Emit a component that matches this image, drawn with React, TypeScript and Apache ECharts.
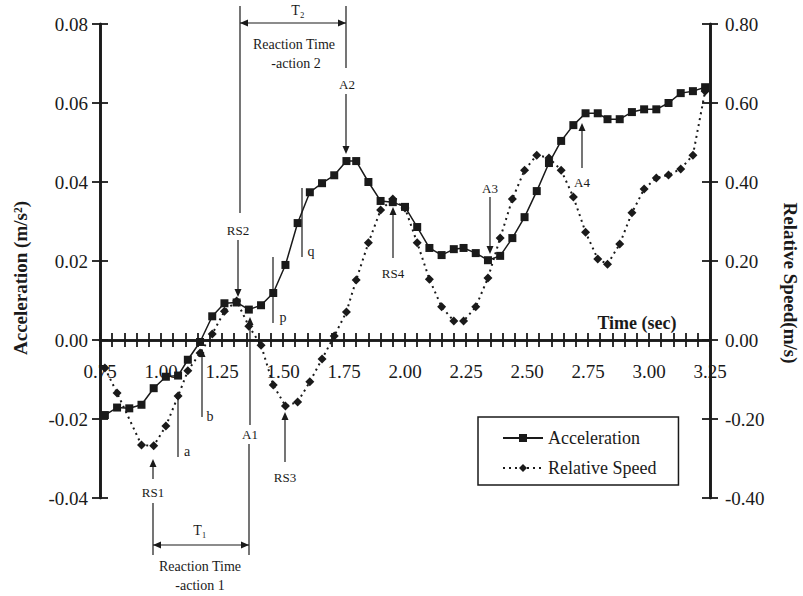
import React, { useEffect, useRef } from "react";
import * as echarts from "echarts";

// ---- data ----
const times = [
  0.77, 0.82, 0.87, 0.92, 0.97, 1.02, 1.07, 1.11, 1.16, 1.21,
  1.26, 1.31, 1.36, 1.41, 1.46, 1.51, 1.56, 1.61, 1.66, 1.71,
  1.76, 1.80, 1.85, 1.90, 1.95, 2.00, 2.05, 2.10, 2.15, 2.20,
  2.24, 2.29, 2.34, 2.39, 2.44, 2.49, 2.54, 2.59, 2.64, 2.69,
  2.74, 2.79, 2.83, 2.88, 2.93, 2.98, 3.03, 3.08, 3.13, 3.18,
  3.23,
];

const acceleration = [
  -0.019, -0.0171, -0.0173, -0.0164, -0.0122, -0.0093, -0.009, -0.005, -0.0005, 0.006,
  0.0093, 0.0095, 0.0077, 0.0088, 0.0119, 0.019, 0.0296, 0.0374, 0.0397, 0.0417,
  0.0453, 0.0453, 0.04, 0.0352, 0.0349, 0.0337, 0.0286, 0.0233, 0.0215, 0.023,
  0.0233, 0.022, 0.0202, 0.0213, 0.0258, 0.0311, 0.0377, 0.0448, 0.0504, 0.0544,
  0.0574, 0.0574, 0.0559, 0.0559, 0.0577, 0.0584, 0.0584, 0.06, 0.0625, 0.063,
  0.064,
];

const relativeSpeed = [
  -0.071, -0.134, null, -0.266, -0.268, -0.218, -0.142, -0.078, -0.033, 0.015,
  0.073, 0.099, 0.035, -0.013, -0.114, -0.167, -0.157, -0.106, -0.048, 0.01,
  0.071, 0.152, 0.246, 0.329, 0.357, 0.334, 0.246, 0.154, 0.084, 0.048,
  0.048, 0.084, 0.157, 0.258, 0.357, 0.43, 0.468, 0.461, 0.43, 0.362,
  0.273, 0.205, 0.192, 0.243, 0.322, 0.382, 0.41, 0.418, 0.433, 0.468,
  0.63,
];

const seriesNames = ["Acceleration", "Relative Speed"];
const accelAxis = { min: -0.04, max: 0.08, interval: 0.02 };
const speedAxis = { min: -0.4, max: 0.8, interval: 0.2 };
const timeAxis = { min: 0.75, max: 3.25, interval: 0.25 };

const INK = "#1a1a1a";
const FONT = '"Liberation Serif", "Times New Roman", serif';

function vline(x: number, y1: number, y2: number) {
  return { type: "line", silent: true, shape: { x1: x, y1, x2: x, y2 }, style: { stroke: INK, lineWidth: 1.2 } };
}
function hline(x1: number, x2: number, y: number) {
  return { type: "line", silent: true, shape: { x1, y1: y, x2, y2: y }, style: { stroke: INK, lineWidth: 1.2 } };
}
function head(x: number, y: number, dir: string) {
  const L = 8, W = 3.5;
  let pts: number[][] = [];
  if (dir === "up") pts = [[x, y], [x - W, y + L], [x + W, y + L]];
  if (dir === "down") pts = [[x, y], [x - W, y - L], [x + W, y - L]];
  if (dir === "left") pts = [[x, y], [x + L, y - W], [x + L, y + W]];
  if (dir === "right") pts = [[x, y], [x - L, y - W], [x - L, y + W]];
  return { type: "polygon", silent: true, shape: { points: pts }, style: { fill: INK } };
}
function label(x: number, y: number, text: string, size = 14, weight = "normal", rotation = 0) {
  return {
    type: "text",
    silent: true,
    x,
    y,
    rotation,
    style: {
      text,
      font: `${weight} ${size}px ${FONT}`,
      fill: INK,
      textAlign: "center",
      textVerticalAlign: "middle",
      align: "center",
      verticalAlign: "middle",
    },
  };
}

const annotations = [
  // T2 / reaction time action 2
  hline(240, 346, 23), head(240, 23, "left"), head(346, 23, "right"),
  label(298, 10, "T₂", 14),
  vline(346, 6, 68), vline(240, 6, 213),
  label(294, 44, "Reaction Time", 14), label(296, 63, "-action 2", 14),
  // A2
  label(347, 84, "A2", 13), vline(346, 94, 150), head(346, 154, "down"),
  // RS2
  label(238, 230, "RS2", 13), vline(238, 240, 294), head(238, 297, "down"),
  // p, q
  vline(273, 257, 323), label(283, 317, "p", 14),
  vline(302, 188, 257), label(311, 251, "q", 14),
  // a, b
  vline(178, 393, 457), label(187, 451, "a", 14),
  vline(202, 356, 417), head(202, 349, "up"), label(210, 416, "b", 14),
  // A1
  head(250, 317, "up"), vline(250, 322, 425), label(250, 434, "A1", 13), vline(249, 444, 555),
  // RS1 and T1
  head(153, 459, "up"), vline(153, 463, 479), label(153, 492, "RS1", 13), vline(153, 503, 555),
  hline(153, 249, 545), head(153, 545, "left"), head(249, 545, "right"),
  label(200, 530, "T₁", 14),
  label(200, 566, "Reaction Time", 14), label(200, 585, "-action 1", 14),
  // RS3, RS4, A3, A4
  head(285, 412, "up"), vline(285, 416, 462), label(285, 477, "RS3", 13),
  head(393, 207, "up"), vline(393, 211, 258), label(393, 273, "RS4", 13),
  label(490, 188, "A3", 13), vline(490, 197, 250), head(490, 254, "down"),
  head(582, 123, "up"), vline(582, 127, 168), label(582, 182, "A4", 13),
  // axis titles
  label(637, 323, "Time (sec)", 18, "bold"),
  label(20, 278, "Acceleration (m/s²)", 19, "bold", Math.PI / 2),
  label(790, 283, "Relative Speed(m/s)", 19, "bold", -Math.PI / 2),
];

const tickLine = { color: INK, width: 1.8 };
const axisLineStyle = { color: INK, width: 2.6 };
const labelFont = { fontFamily: FONT, fontSize: 19, color: INK };

export default function App() {
  const ref = useRef<HTMLDivElement>(null);
  useEffect(() => {
    if (!ref.current) return;
    const chart = echarts.init(ref.current, undefined, { renderer: "svg" });
    const option: any = {
      animation: false,
      backgroundColor: "#ffffff",
      grid: [
        // main plotting grid (full value range)
        { left: 100, right: 93, top: 24, bottom: 98, containLabel: false },
        // helper grid whose bottom edge is the zero line, carrying the time axis
        { left: 100, right: 93, top: 24, bottom: 256, containLabel: false },
      ],
      legend: {
        data: seriesNames,
        orient: "vertical",
        left: 478,
        top: 417,
        padding: [12, 22, 8, 24],
        itemGap: 12,
        itemWidth: 40,
        itemHeight: 10,
        borderColor: INK,
        borderWidth: 1.5,
        textStyle: { fontFamily: FONT, fontSize: 18, color: INK },
      },
      xAxis: [
        {
          type: "value",
          gridIndex: 0,
          ...timeAxis,
          show: false,
        },
        {
          type: "value",
          gridIndex: 1,
          ...timeAxis,
          position: "bottom",
          axisLine: { show: true, onZero: false, lineStyle: axisLineStyle },
          axisTick: { show: true, length: 7, lineStyle: tickLine },
          minorTick: { show: true, splitNumber: 5, length: 7, lineStyle: tickLine },
          axisLabel: {
            ...labelFont,
            margin: 22,
            formatter: (v: number) => v.toFixed(2),
          },
          splitLine: { show: false },
        },
        {
          type: "value",
          gridIndex: 1,
          ...timeAxis,
          position: "bottom",
          axisLine: { show: true, onZero: false, lineStyle: axisLineStyle },
          axisTick: { show: true, inside: true, length: 7, lineStyle: tickLine },
          minorTick: { show: true, splitNumber: 5, length: 7, lineStyle: tickLine },
          axisLabel: { show: false },
          splitLine: { show: false },
        },
      ],
      yAxis: [
        {
          type: "value",
          gridIndex: 0,
          ...accelAxis,
          position: "left",
          axisLine: { show: true, onZero: false, lineStyle: axisLineStyle },
          axisTick: { show: true, length: 8, lineStyle: tickLine },
          axisLabel: { ...labelFont, margin: 12, formatter: (v: number) => v.toFixed(2) },
          splitLine: { show: false },
        },
        {
          type: "value",
          gridIndex: 0,
          ...speedAxis,
          position: "right",
          axisLine: { show: true, onZero: false, lineStyle: axisLineStyle },
          axisTick: { show: true, length: 8, lineStyle: tickLine },
          axisLabel: { ...labelFont, margin: 15, formatter: (v: number) => v.toFixed(2) },
          splitLine: { show: false },
        },
        {
          type: "value",
          gridIndex: 0,
          ...accelAxis,
          position: "left",
          axisLine: { show: true, onZero: false, lineStyle: axisLineStyle },
          axisTick: { show: true, inside: true, length: 8, lineStyle: tickLine },
          axisLabel: { show: false },
          splitLine: { show: false },
        },
        {
          type: "value",
          gridIndex: 0,
          ...speedAxis,
          position: "right",
          axisLine: { show: true, onZero: false, lineStyle: axisLineStyle },
          axisTick: { show: true, inside: true, length: 8, lineStyle: tickLine },
          axisLabel: { show: false },
          splitLine: { show: false },
        },
        {
          type: "value",
          gridIndex: 1,
          min: 0,
          max: 0.08,
          show: false,
        },
      ],
      series: [
        {
          name: seriesNames[0],
          type: "line",
          xAxisIndex: 0,
          yAxisIndex: 0,
          data: times.map((t, i) => [t, acceleration[i]]),
          symbol: "rect",
          symbolSize: 8,
          showAllSymbol: true,
          lineStyle: { color: INK, width: 1.5 },
          itemStyle: { color: INK },
          z: 4,
        },
        {
          name: seriesNames[1],
          type: "line",
          xAxisIndex: 0,
          yAxisIndex: 1,
          connectNulls: true,
          data: times.map((t, i) => [t, relativeSpeed[i]]),
          symbol: "diamond",
          symbolSize: 9,
          showAllSymbol: true,
          lineStyle: { color: INK, width: 2, type: [2, 4] },
          itemStyle: { color: INK },
          z: 3,
        },
      ],
      graphic: annotations,
    };
    chart.setOption(option);
    return () => chart.dispose();
  }, []);
  return (
    <div
      ref={ref}
      style={{ position: "fixed", left: 0, top: 0, width: 803, height: 596, background: "#fff" }}
    />
  );
}
